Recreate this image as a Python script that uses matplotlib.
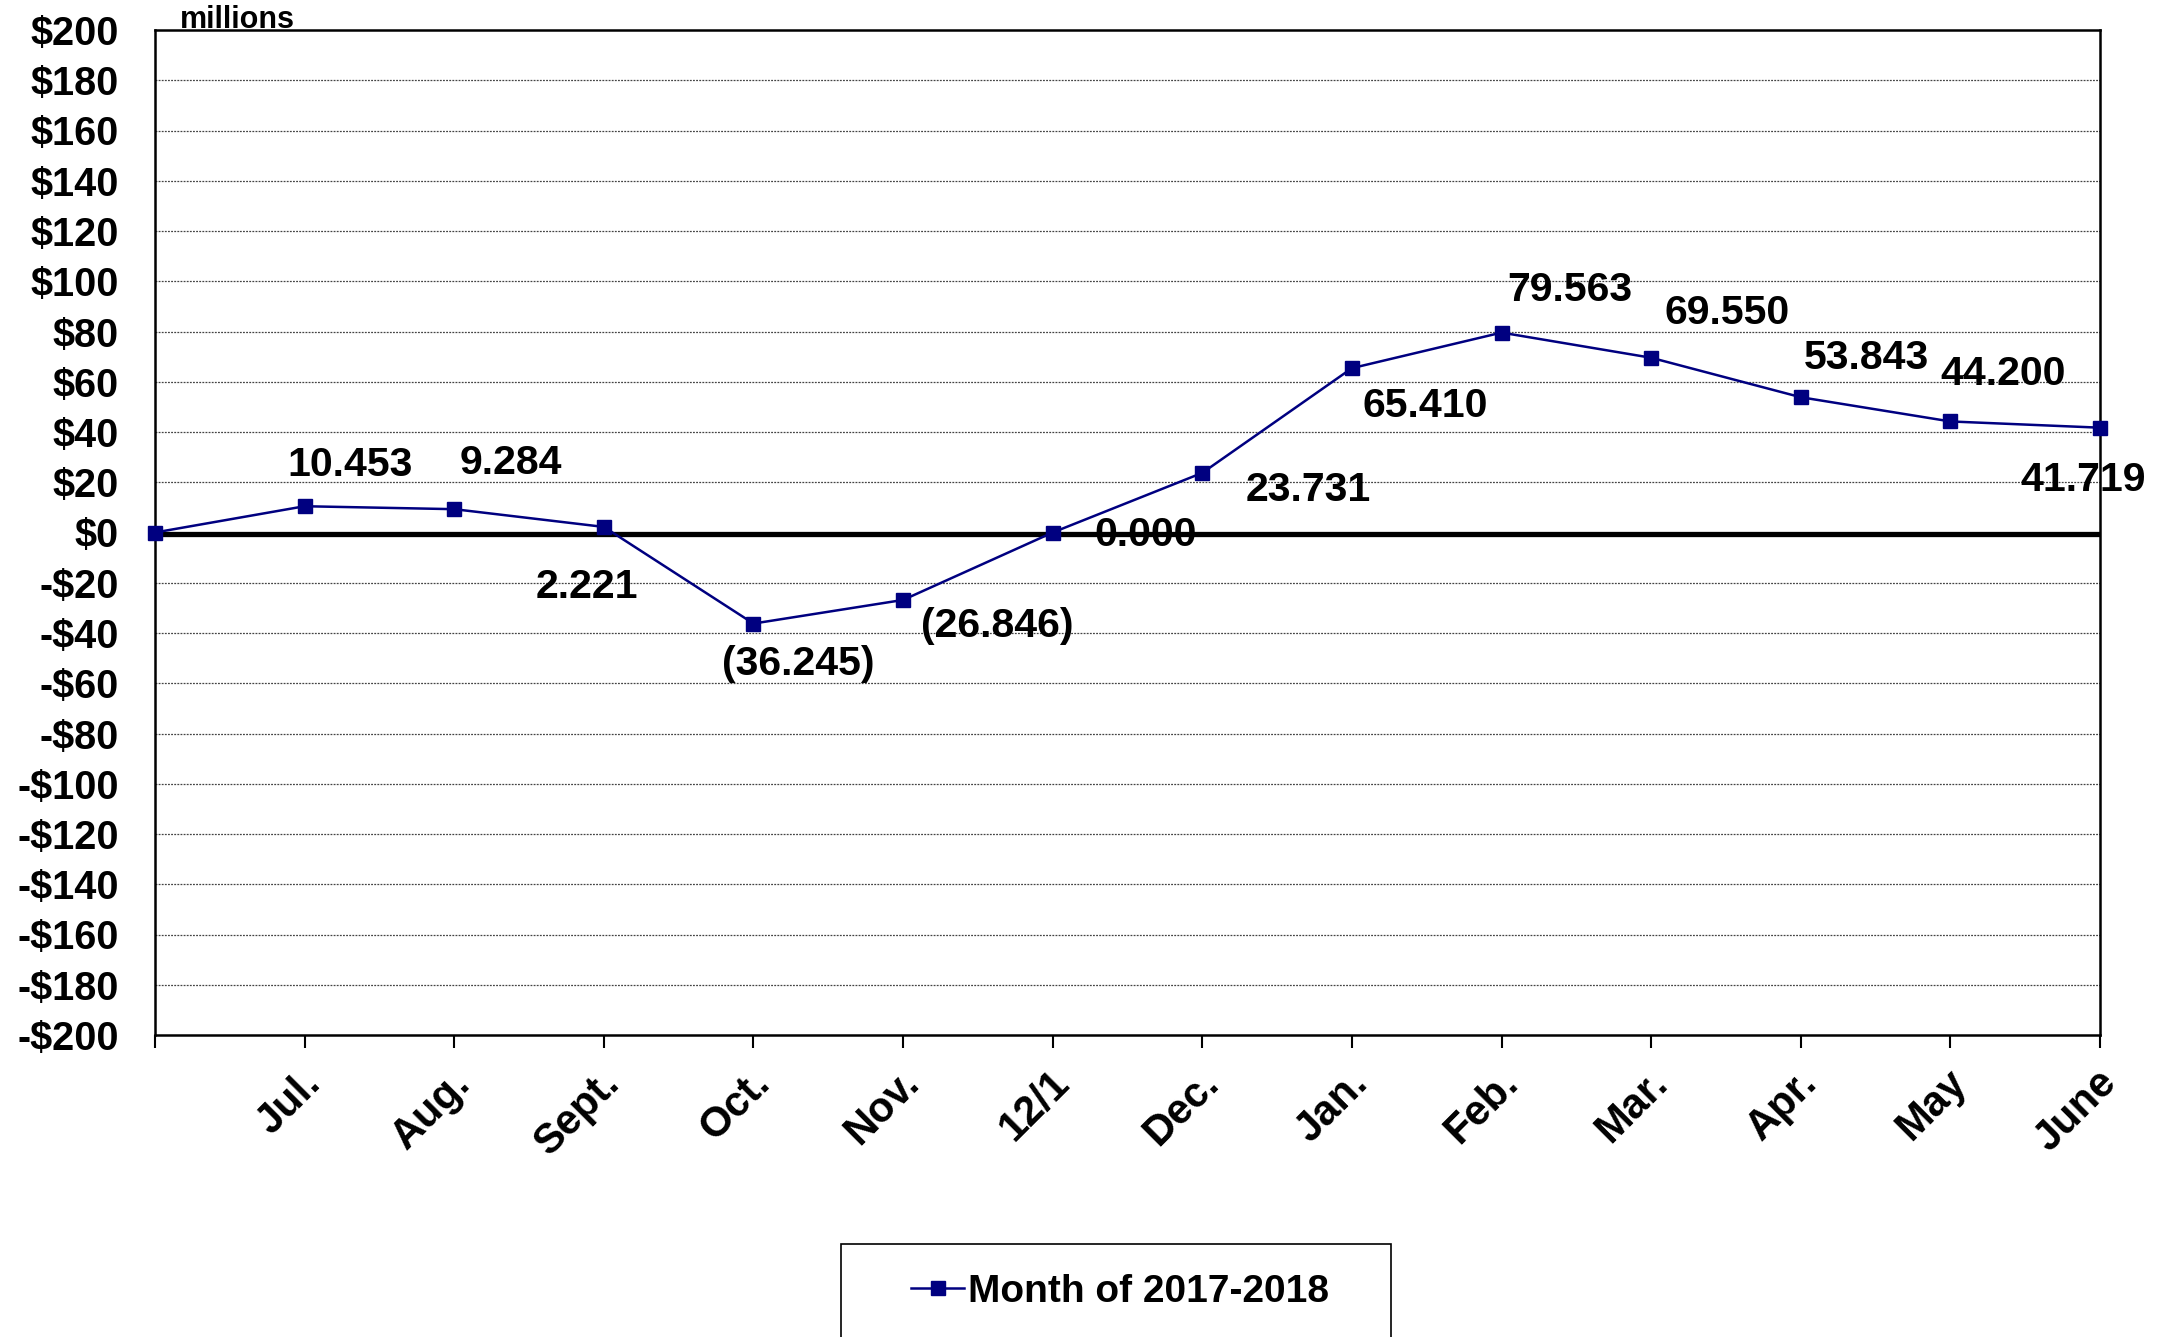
import matplotlib
matplotlib.use("Agg")
import matplotlib.pyplot as plt
from matplotlib.patches import Rectangle
import matplotlib.transforms as mtransforms

# ---- data ----
categories = ["", "Jul.", "Aug.", "Sept.", "Oct.", "Nov.", "12/1", "Dec.",
              "Jan.", "Feb.", "Mar.", "Apr.", "May", "June"]
values = [0.0, 10.453, 9.284, 2.221, -36.245, -26.846, 0.000, 23.731,
          65.410, 79.563, 69.550, 53.843, 44.200, 41.719]
show_label = [False] + [True] * 13
y_ticks = list(range(-200, 201, 20))
series_name = "Month of 2017-2018"
unit_label = "millions"

# label offsets (points) relative to each point
label_offsets = [(0, 0), (33, 30), (41, 33), (-12, -43), (32, -29), (68, -19),
                 (67, -2), (76, -12), (53, -27), (49, 31), (55, 32), (47, 28),
                 (38, 34), (-12, -38)]

plt.rcParams['font.family'] = ['Liberation Sans', 'DejaVu Sans']
plt.rcParams['font.weight'] = 'bold'

W, H = 2164, 1337
fig = plt.figure(figsize=(W / 100, H / 100), dpi=100)
ax = fig.add_axes([155 / W, 1 - 1035 / H, (2100 - 155) / W, (1035 - 30) / H])

x = list(range(len(values)))
navy = "#000080"
line, = ax.plot(x, values, color=navy, lw=1.8, marker='s', markersize=10,
                markerfacecolor=navy, markeredgecolor=navy, zorder=5,
                clip_on=False, label=series_name)

ax.set_xlim(0, len(values) - 1)
ax.set_ylim(-200, 200)

# grid
for v in y_ticks:
    if v in (-200, 200, 0):
        continue
    ax.axhline(v, color="#444444", lw=0.9, ls=(0, (1.5, 1)), zorder=1)
ax.axhline(-0.6, color="black", lw=3.8, zorder=3)

def fmt(v):
    return f"${v}" if v >= 0 else f"-${-v}"

ax.set_yticks(y_ticks)
ax.set_yticklabels([fmt(v) for v in y_ticks], fontsize=28.5, fontweight='bold')
ax.tick_params(axis='y', length=0, pad=26)

ax.set_xticks(x)
ax.set_xticklabels(categories, fontsize=30, fontweight='bold', rotation=45,
                   ha='right', va='top', rotation_mode='anchor')
ax.tick_params(axis='x', length=9, width=1.5, direction='out', pad=11)
shift = mtransforms.ScaledTranslation(-4 / 100, 0, fig.dpi_scale_trans)
for lab in ax.get_xticklabels():
    lab.set_transform(lab.get_transform() + shift)

for s in ax.spines.values():
    s.set_linewidth(1.8)
    s.set_color('black')

for xi, v, show, off in zip(x, values, show_label, label_offsets):
    if not show:
        continue
    txt = f"{v:.3f}" if v >= 0 else f"({-v:.3f})"
    ax.annotate(txt, (xi, v), xytext=off, textcoords='offset points',
                ha='center', va='center', fontsize=29.5, fontweight='bold',
                zorder=6, annotation_clip=False)

fig.text(180 / W, 1 - 28 / H, unit_label, fontsize=22, fontweight='bold',
         ha='left', va='baseline')

# legend box (extends past bottom edge)
fig.patches.append(Rectangle((841 / W, -0.05), (1391 - 841) / W,
                             (1 - 1244 / H) + 0.05, transform=fig.transFigure,
                             facecolor='white', edgecolor='black', lw=1.2))
leg = fig.legend(handles=[line], loc='center', bbox_to_anchor=(1120 / W, 1 - 1292 / H),
                 frameon=False, handlelength=1.35, handletextpad=0.1,
                 prop={'weight': 'bold', 'size': 28})

fig.savefig("out.png", dpi=100)
